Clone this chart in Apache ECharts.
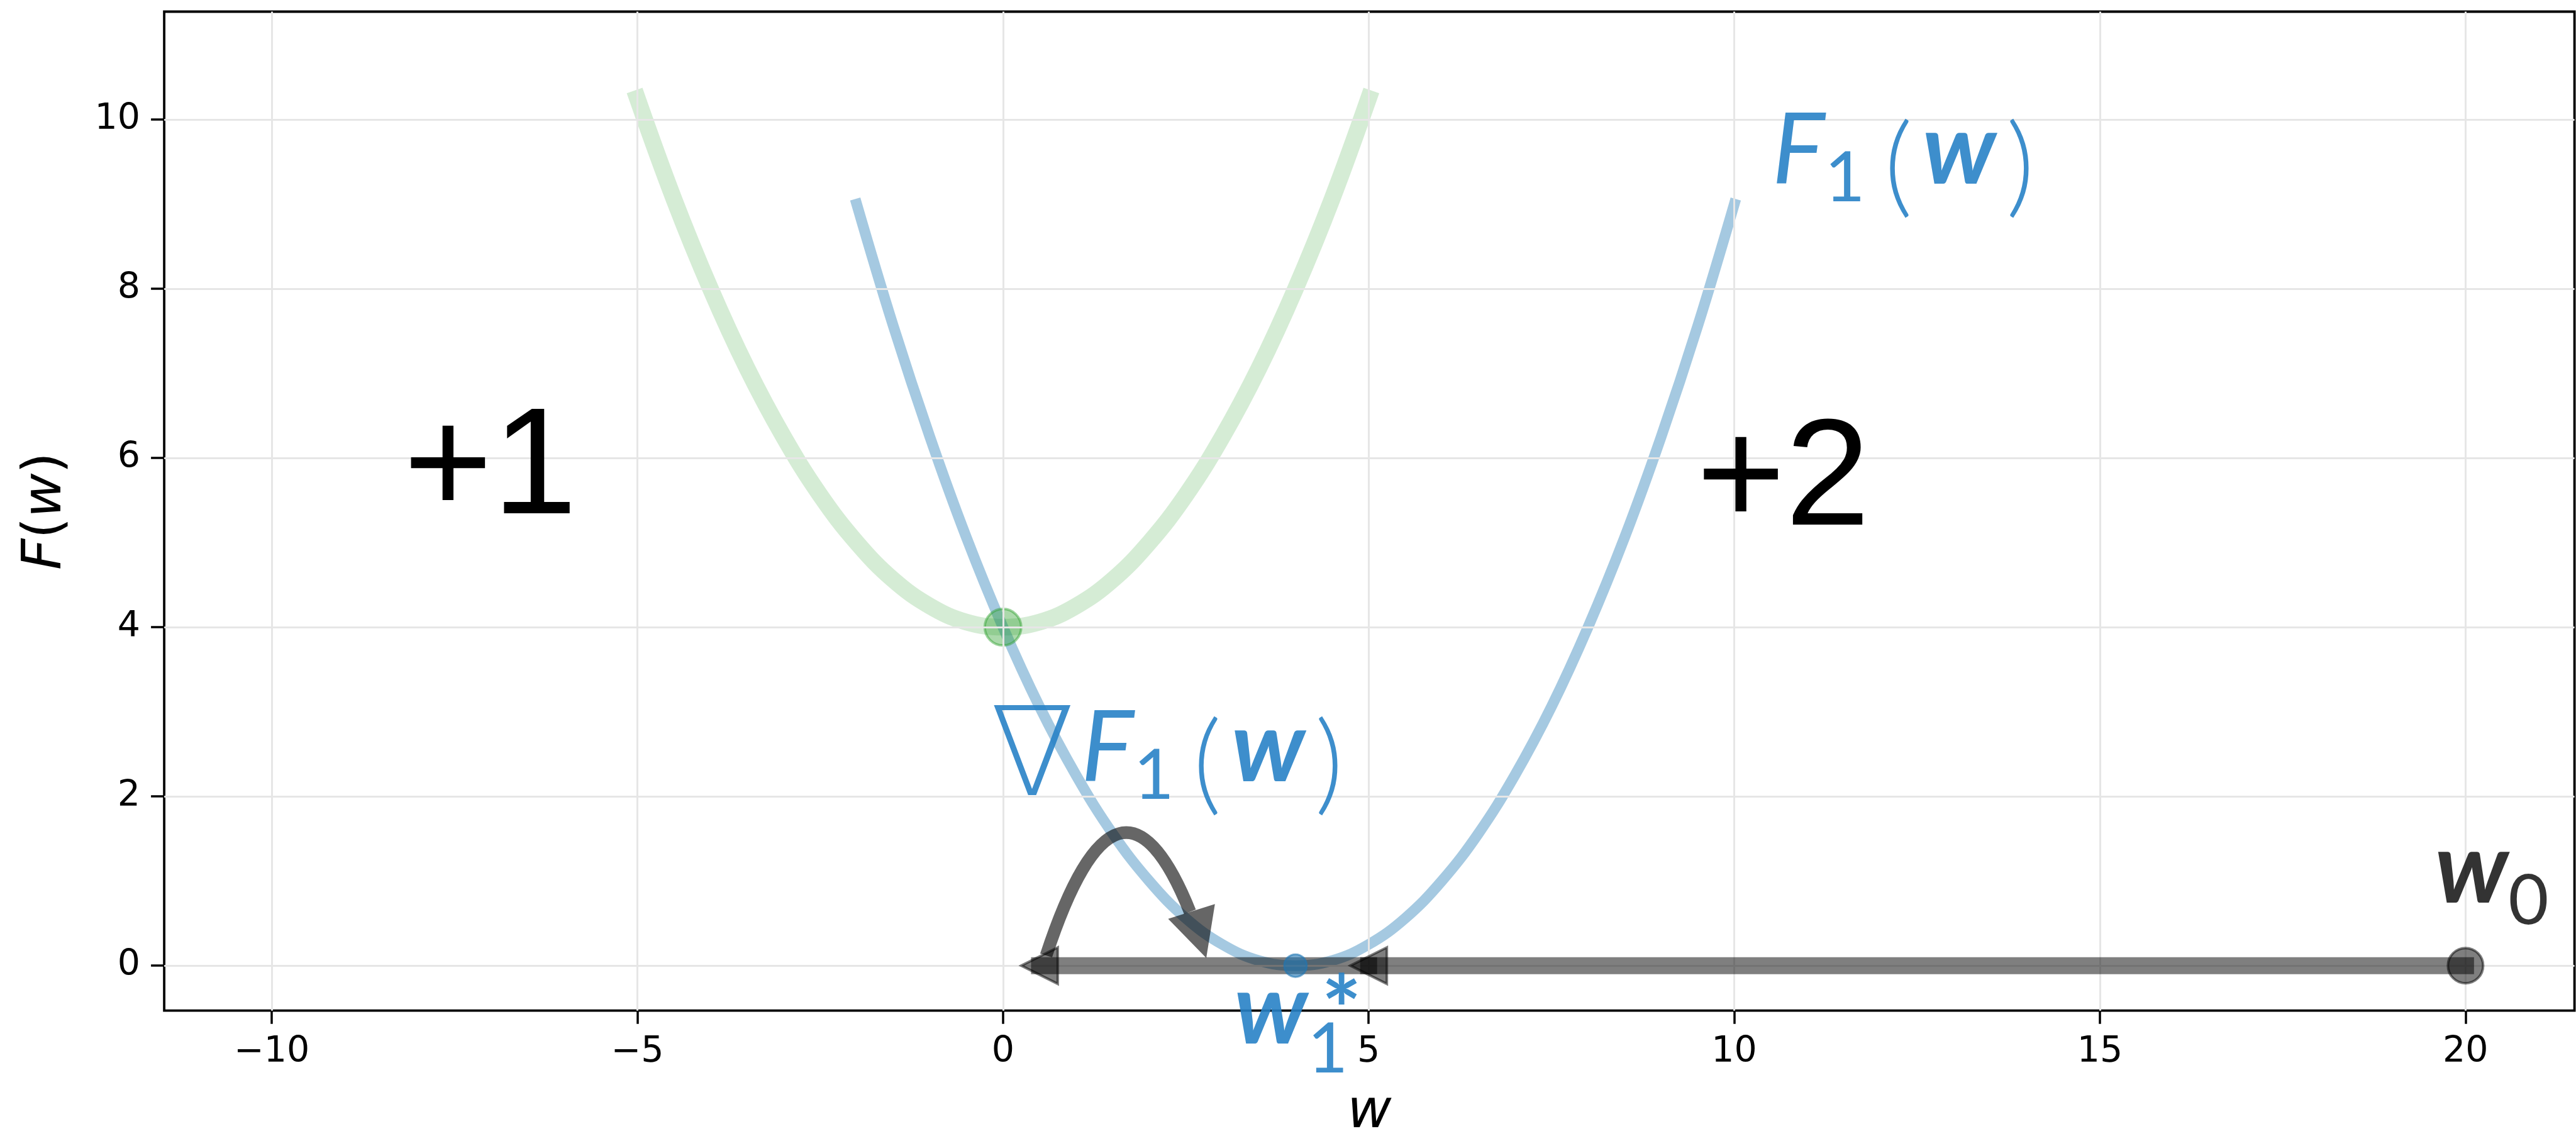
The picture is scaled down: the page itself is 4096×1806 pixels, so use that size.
<!DOCTYPE html>
<html>
<head>
<meta charset="utf-8">
<script src="https://cdn.jsdelivr.net/npm/echarts@6/dist/echarts.min.js"></script>
<style>
  html, body { margin: 0; padding: 0; background: #ffffff; }
  #chart { width: 4096px; height: 1806px; }
</style>
</head>
<body>
<div id="chart"></div>
<script>
// Two quadratic objectives: the shifted one F1 and the reference one around w = 0.
const greenX = [-5, -4.5, -4, -3.5, -3, -2.5, -2, -1.5, -1, -0.5, 0, 0.5, 1, 1.5, 2, 2.5, 3, 3.5, 4, 4.5, 5];
const greenY = [10.25, 9.06, 8.00, 7.06, 6.25, 5.56, 5.00, 4.56, 4.25, 4.06, 4.00, 4.06, 4.25, 4.56, 5.00, 5.56, 6.25, 7.06, 8.00, 9.06, 10.25];
const blueX = [-2, -1.5, -1, -0.5, 0, 0.5, 1, 1.5, 2, 2.5, 3, 3.5, 4, 4.5, 5, 5.5, 6, 6.5, 7, 7.5, 8, 8.5, 9, 9.5, 10];
const blueY = [9.00, 7.56, 6.25, 5.06, 4.00, 3.06, 2.25, 1.56, 1.00, 0.56, 0.25, 0.06, 0.00, 0.06, 0.25, 0.56, 1.00, 1.56, 2.25, 3.06, 4.00, 5.06, 6.25, 7.56, 9.00];

// Tick values
const xTicks = [-10, -5, 0, 5, 10, 15, 20];
const yTicks = [0, 2, 4, 6, 8, 10];

// Descent path along w: 20 -> 5 -> 0.5, with left-pointing heads
const stepOneX = [20, 5];
const stepTwoX = [5, 0.5];
const stepY = [0, 0];
const headX = [0.5, 5];
const headY = [0, 0];
const startPoint = [20, 0];
const greenMin = [0, 4];
const blueMin = [4, 0];

// Curved gradient arrow (quadratic: start, control, tip)
const arcStart = [0.59, 0.12];
const arcControl = [1.70, 3.04];
const arcEnd = [2.78, 0.09];

// Annotation anchors (data coordinates)
const plusOneAt = [-7.01, 5.84];
const plusTwoAt = [10.67, 5.71];
const f1LabelAt = [12.38, 9.62];
const gradLabelAt = [2.31, 2.56];
const wStarLabelAt = [3.94, -0.54];
const starAt = [4.63, -0.57];
const w0LabelAt = [20.36, 1.12];

const zip = (xs, ys) => xs.map((x, i) => [x, ys[i]]);

const BLUE_TEXT = 'rgba(40,130,198,0.9)';
const GREY_TEXT = 'rgba(0,0,0,0.8)';
const HEAD_LEN = 77.7;
const HEAD_HALF = 39;

const rich = {
  big:  { fontFamily: 'Liberation Sans', fontSize: 242, lineHeight: 242, color: '#000' },
  nab:  { fontFamily: 'DejaVu Sans', fontWeight: 200, fontSize: 196, lineHeight: 200, color: BLUE_TEXT, padding: [44, 10, 0, 0] },
  fi:   { fontFamily: 'Lato', fontStyle: 'italic', fontSize: 158, lineHeight: 200, color: BLUE_TEXT },
  sub:  { fontFamily: 'Lato', fontSize: 111, lineHeight: 200, color: BLUE_TEXT, padding: [86, 14, 0, 0] },
  par:  { fontFamily: 'Lato', fontWeight: 300, fontSize: 176, lineHeight: 200, color: BLUE_TEXT, padding: [50, 16, 0, 16] },
  bw:   { fontFamily: 'Lato', fontStyle: 'italic', fontWeight: 'bold', fontSize: 158, lineHeight: 200, color: BLUE_TEXT },
  subw: { fontFamily: 'Lato', fontSize: 111, lineHeight: 200, color: BLUE_TEXT, padding: [122, 0, 0, 0] },
  ast:  { fontFamily: 'Lato', fontWeight: 'bold', fontSize: 150, lineHeight: 150, color: BLUE_TEXT },
  gw:   { fontFamily: 'Lato', fontStyle: 'italic', fontWeight: 'bold', fontSize: 158, lineHeight: 200, color: GREY_TEXT },
  g0:   { fontFamily: 'Lato', fontSize: 111, lineHeight: 200, color: GREY_TEXT, padding: [97, 0, 0, 0] }
};

const annotations = [
  { value: plusOneAt, text: '{big|+1}' },
  { value: plusTwoAt, text: '{big|+2}' },
  { value: f1LabelAt, text: '{fi|F}{sub|1}{par|(}{bw|w}{par|)}' },
  { value: gradLabelAt, text: '{nab|\u2207}{fi|F}{sub|1}{par|(}{bw|w}{par|)}' },
  { value: wStarLabelAt, text: '{bw|w}{subw|1}' },
  { value: starAt, text: '{ast|*}' },
  { value: w0LabelAt, text: '{gw|w}{g0|0}' }
];

const minusFmt = v => (v < 0 ? '\u2212' + Math.abs(v) : String(v));

function quadPoint(p0, c, p2, t) {
  const u = 1 - t;
  return [u * u * p0[0] + 2 * u * t * c[0] + t * t * p2[0],
          u * u * p0[1] + 2 * u * t * c[1] + t * t * p2[1]];
}

function renderArc(params, api) {
  const p0 = api.coord([api.value(0), api.value(1)]);
  const c = api.coord([api.value(2), api.value(3)]);
  const p2 = api.coord([api.value(4), api.value(5)]);
  let dx = p2[0] - c[0], dy = p2[1] - c[1];
  const len = Math.hypot(dx, dy);
  dx /= len; dy /= len;
  const base = [p2[0] - dx * HEAD_LEN, p2[1] - dy * HEAD_LEN];
  // trim the curve where it enters the head
  let t = 1;
  for (let k = 0; k <= 2000; k++) {
    const tt = 1 - k / 2000;
    const q = quadPoint(p0, c, p2, tt);
    if (Math.hypot(q[0] - p2[0], q[1] - p2[1]) >= HEAD_LEN) { t = tt; break; }
  }
  const q1 = [p0[0] + (c[0] - p0[0]) * t, p0[1] + (c[1] - p0[1]) * t];
  const q2 = quadPoint(p0, c, p2, t);
  const nx = -dy, ny = dx;
  return {
    type: 'group',
    children: [
      {
        type: 'bezierCurve',
        shape: { x1: p0[0], y1: p0[1], cpx1: q1[0], cpy1: q1[1], x2: q2[0], y2: q2[1] },
        style: { stroke: 'rgba(0,0,0,0.6)', lineWidth: 20, fill: 'none', lineCap: 'butt' }
      },
      {
        type: 'polygon',
        shape: { points: [p2, [base[0] + nx * HEAD_HALF, base[1] + ny * HEAD_HALF], [base[0] - nx * HEAD_HALF, base[1] - ny * HEAD_HALF]] },
        style: { fill: 'rgba(0,0,0,0.6)', stroke: 'none' }
      }
    ]
  };
}

const chart = echarts.init(document.getElementById('chart'), null, { renderer: 'canvas' });

const option = {
  animation: false,
  backgroundColor: '#ffffff',
  grid: {
    left: 261.1, right: 2.4, top: 18.5, bottom: 199.3,
    show: true, borderColor: '#000', borderWidth: 3.8, backgroundColor: 'transparent',
    containLabel: false, outerBoundsMode: 'none'
  },
  xAxis: {
    type: 'value', min: -11.47, max: 21.49,
    axisLine: { show: false, onZero: false },
    splitLine: { show: false },
    axisTick: { show: true, inside: false, length: 21, lineStyle: { color: '#000', width: 3.5 }, customValues: xTicks },
    axisLabel: { customValues: xTicks, margin: 38, fontFamily: 'DejaVu Sans', fontSize: 57, lineHeight: 57, color: '#000', formatter: minusFmt },
    name: '{i|w}', nameLocation: 'middle', nameGap: 120,
    nameTextStyle: { rich: { i: { fontFamily: 'DejaVu Sans', fontStyle: 'italic', fontSize: 86, lineHeight: 86, color: '#000' } } }
  },
  yAxis: {
    type: 'value', min: -0.532, max: 11.275,
    axisLine: { show: false, onZero: false },
    splitLine: { show: false },
    axisTick: { show: true, inside: false, length: 21, lineStyle: { color: '#000', width: 3.5 }, customValues: yTicks },
    axisLabel: { customValues: yTicks, margin: 38, fontFamily: 'DejaVu Sans', fontSize: 57, lineHeight: 57, color: '#000', padding: [11, 0, 0, 0], formatter: minusFmt },
    name: '{i|F}{n|(}{i|w}{n|)}', nameLocation: 'middle', nameGap: 144,
    nameTextStyle: { rich: {
      i: { fontFamily: 'DejaVu Sans', fontStyle: 'italic', fontSize: 86, lineHeight: 86, color: '#000' },
      n: { fontFamily: 'DejaVu Sans', fontSize: 86, lineHeight: 86, color: '#000' }
    } }
  },
  series: [
    {
      name: 'grid', type: 'line', data: [], z: 1, silent: true,
      markLine: {
        silent: true, animation: false, symbol: ['none', 'none'], label: { show: false },
        lineStyle: { color: '#e6e6e6', width: 3, type: 'solid' },
        emphasis: { disabled: true },
        data: xTicks.map(v => ({ xAxis: v })).concat(yTicks.map(v => ({ yAxis: v })))
      }
    },
    {
      name: 'F', type: 'line', data: zip(greenX, greenY), z: 2, smooth: 0.4,
      symbol: 'none', silent: true,
      lineStyle: { color: 'rgba(44,160,44,0.2)', width: 26.5, cap: 'square' }
    },
    {
      name: 'F1', type: 'line', data: zip(blueX, blueY), z: 3, smooth: 0.4,
      symbol: 'none', silent: true,
      lineStyle: { color: 'rgba(31,119,180,0.4)', width: 17, cap: 'square' }
    },
    {
      name: 'F min', type: 'scatter', data: [greenMin], z: 4, silent: true,
      symbol: 'circle', symbolSize: 58,
      itemStyle: { color: 'rgba(44,160,44,0.4)', borderColor: 'rgba(44,160,44,0.45)', borderWidth: 4, opacity: 1 }
    },
    {
      name: 'step 1', type: 'line', data: zip(stepOneX, stepY), z: 5, symbol: 'none', silent: true,
      lineStyle: { color: 'rgba(0,0,0,0.5)', width: 27, cap: 'square' }
    },
    {
      name: 'step 2', type: 'line', data: zip(stepTwoX, stepY), z: 5, symbol: 'none', silent: true,
      lineStyle: { color: 'rgba(0,0,0,0.5)', width: 27, cap: 'square' }
    },
    {
      name: 'F1 min', type: 'scatter', data: [blueMin], z: 6, silent: true,
      symbol: 'circle', symbolSize: 36,
      itemStyle: { color: 'rgba(31,119,180,0.6)', borderColor: 'rgba(31,119,180,0.6)', borderWidth: 3, opacity: 1 }
    },
    {
      name: 'heads', type: 'scatter', data: zip(headX, headY), z: 6, silent: true,
      symbol: 'triangle', symbolRotate: 90, symbolSize: 58,
      itemStyle: { color: 'rgba(0,0,0,0.5)', borderColor: 'rgba(0,0,0,0.5)', borderWidth: 4, opacity: 1 }
    },
    {
      name: 'start', type: 'scatter', data: [startPoint], z: 6, silent: true,
      symbol: 'circle', symbolSize: 56,
      itemStyle: { color: 'rgba(0,0,0,0.5)', borderColor: 'rgba(0,0,0,0.5)', borderWidth: 4, opacity: 1 }
    },
    {
      name: 'gradient', type: 'custom', z: 7, silent: true, clip: false,
      data: [[arcStart[0], arcStart[1], arcControl[0], arcControl[1], arcEnd[0], arcEnd[1]]],
      encode: { x: [0, 2, 4], y: [1, 3, 5] },
      renderItem: renderArc
    },
    {
      name: 'labels', type: 'scatter', z: 8, silent: true, clip: false,
      symbol: 'circle', symbolSize: 1,
      itemStyle: { color: 'rgba(0,0,0,0)', opacity: 1 },
      data: annotations,
      label: {
        show: true, position: 'inside', color: '#000', textBorderWidth: 0, opacity: 1,
        formatter: p => p.data.text,
        rich: rich
      }
    }
  ]
};

chart.setOption(option);
</script>
</body>
</html>
